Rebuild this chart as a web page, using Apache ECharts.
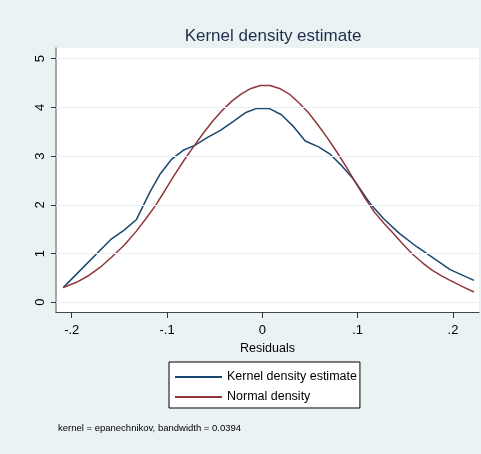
<!DOCTYPE html>
<html>
<head>
<meta charset="utf-8">
<script src="https://cdn.jsdelivr.net/npm/echarts@6/dist/echarts.min.js"></script>
<style>
html,body{margin:0;padding:0;background:#eaf2f3;}
#chart{width:481px;height:454px;}
</style>
</head>
<body>
<div id="chart"></div>
<script>
var titleText = 'Kernel density estimate';
var xAxisName = 'Residuals';
var noteText = 'kernel = epanechnikov, bandwidth = 0.0394';
var seriesNames = ['Kernel density estimate', 'Normal density'];
var xTicks = [-0.2, -0.1, 0, 0.1, 0.2];
var xTickLabels = ['-.2', '-.1', '0', '.1', '.2'];
var yTicks = [0, 1, 2, 3, 4, 5];

var kernelX = [-0.209, -0.159, -0.145, -0.132, -0.118, -0.107, -0.095, -0.083, -0.071, -0.057, -0.044, -0.030, -0.018, -0.006, 0.007, 0.020, 0.033, 0.045, 0.059, 0.071, 0.083, 0.095, 0.113, 0.127, 0.144, 0.162, 0.183, 0.197, 0.222];
var kernelY = [0.30, 1.29, 1.48, 1.70, 2.26, 2.64, 2.94, 3.12, 3.22, 3.39, 3.53, 3.72, 3.89, 3.98, 3.98, 3.85, 3.60, 3.31, 3.19, 3.04, 2.81, 2.54, 2.03, 1.72, 1.41, 1.14, 0.86, 0.67, 0.45];

var normalX = [-0.209, -0.195, -0.182, -0.170, -0.158, -0.145, -0.133, -0.122, -0.112, -0.102, -0.092, -0.082, -0.072, -0.062, -0.052, -0.042, -0.032, -0.022, -0.012, -0.002, 0.008, 0.018, 0.028, 0.038, 0.048, 0.058, 0.068, 0.078, 0.088, 0.098, 0.108, 0.118, 0.128, 0.138, 0.148, 0.158, 0.168, 0.178, 0.188, 0.198, 0.210, 0.222];
var normalY = [0.30, 0.41, 0.55, 0.72, 0.93, 1.17, 1.44, 1.72, 1.99, 2.30, 2.62, 2.92, 3.20, 3.47, 3.72, 3.94, 4.13, 4.28, 4.39, 4.45, 4.45, 4.39, 4.28, 4.10, 3.90, 3.65, 3.38, 3.09, 2.78, 2.45, 2.13, 1.84, 1.61, 1.40, 1.18, 0.98, 0.81, 0.66, 0.54, 0.44, 0.32, 0.21];

var FONT = "'Liberation Sans', Arial, Helvetica, sans-serif";

function pairs(xs, ys) { return xs.map(function (x, i) { return [x, ys[i]]; }); }

var chart = echarts.init(document.getElementById('chart'), null, {renderer: 'canvas'});
chart.setOption({
  backgroundColor: '#eaf2f3',
  animation: false,
  textStyle: {fontFamily: FONT},
  title: {
    text: titleText, left: 268, top: 23, textAlign: 'center',
    textStyle: {fontFamily: FONT, fontSize: 17, fontWeight: 'normal', color: '#1e2d4d'}
  },
  graphic: [{
    type: 'text', left: 58, top: 423,
    style: {text: noteText, font: '9.5px ' + FONT, fill: '#000'}
  }],
  grid: {left: 56, right: 2, top: 48, bottom: 142, show: true, backgroundColor: '#ffffff', borderWidth: 0},
  legend: {
    left: 169, top: 362, orient: 'vertical',
    backgroundColor: '#ffffff', borderColor: '#000', borderWidth: 1, borderRadius: 0,
    padding: [5, 3, 1, 6], itemGap: 0, itemWidth: 47, itemHeight: 2, icon: 'rect',
    textStyle: {fontFamily: FONT, fontSize: 12.5, color: '#000', lineHeight: 20},
    data: seriesNames
  },
  xAxis: {
    type: 'value', min: -0.2165, max: 0.2273,
    name: xAxisName, nameLocation: 'middle', nameGap: 28,
    nameTextStyle: {fontFamily: FONT, fontSize: 12.5, color: '#000'},
    axisLine: {show: true, onZero: false, lineStyle: {color: '#444', width: 1.2}},
    axisTick: {show: true, customValues: xTicks, length: 6, lineStyle: {color: '#333', width: 1}},
    axisLabel: {customValues: xTicks, margin: 12, fontSize: 13, color: '#000', fontFamily: FONT,
      formatter: function (v) { var i = xTicks.findIndex(function (t) { return Math.abs(t - v) < 1e-9; }); return i >= 0 ? xTickLabels[i] : ''; }},
    splitLine: {show: false}
  },
  yAxis: {
    type: 'value', min: -0.2, max: 5.22,
    axisLine: {show: true, onZero: false, lineStyle: {color: '#888', width: 1.5}},
    axisTick: {show: true, customValues: yTicks, length: 5, lineStyle: {color: '#333', width: 1}},
    axisLabel: {customValues: yTicks, rotate: 90, margin: 9, fontSize: 13, color: '#000', fontFamily: FONT},
    splitLine: {show: false}
  },
  series: [
    {
      name: 'grid', type: 'line', data: [], silent: true,
      markLine: {silent: true, symbol: 'none', label: {show: false},
        lineStyle: {color: '#e6eff1', width: 1.2, type: 'solid'},
        data: yTicks.map(function (v) { return {yAxis: v}; })}
    },
    {
      name: seriesNames[0], type: 'line', data: pairs(kernelX, kernelY),
      showSymbol: false, symbol: 'none', lineStyle: {color: '#1a476f', width: 1.5}, itemStyle: {color: '#1a476f'}, z: 3
    },
    {
      name: seriesNames[1], type: 'line', data: pairs(normalX, normalY),
      showSymbol: false, symbol: 'none', lineStyle: {color: '#90353b', width: 1.5}, itemStyle: {color: '#90353b'}, z: 4
    }
  ]
});
</script>
</body>
</html>
